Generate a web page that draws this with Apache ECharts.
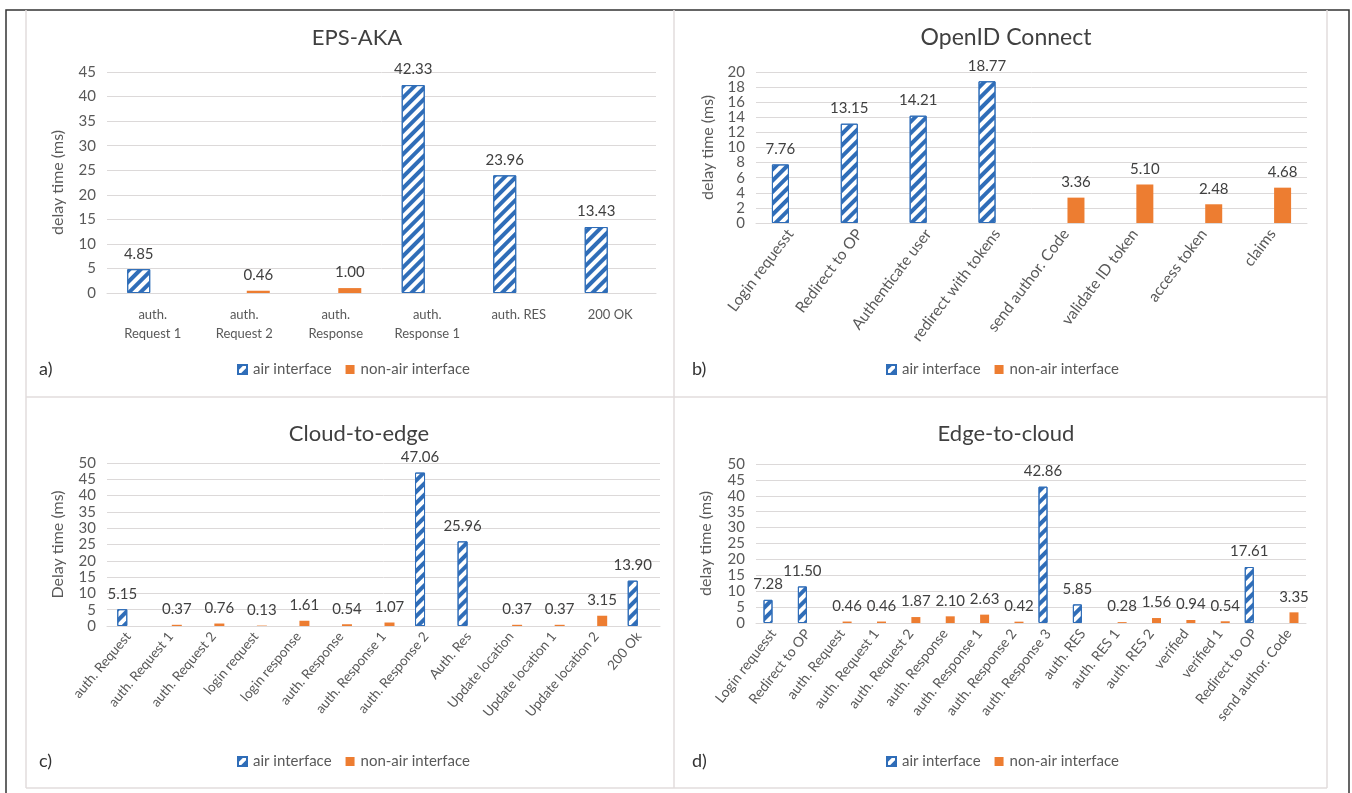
<!DOCTYPE html>
<html>
<head>
<meta charset="utf-8">
<script src="https://cdn.jsdelivr.net/npm/echarts@6/dist/echarts.min.js"></script>
<style>
  html, body { margin: 0; padding: 0; background: #ffffff; }
  #chart { width: 1352px; height: 793px; }
</style>
</head>
<body>
<div id="chart"></div>
<script>
// ---- a) EPS-AKA ----
const catsA = ['auth.\nRequest 1', 'auth.\nRequest 2', 'auth.\nResponse', 'auth.\nResponse 1', 'auth. RES', '200 OK'];
const airA = [4.85, null, null, 42.33, 23.96, 13.43];
const nonAirA = [null, 0.46, 1.00, null, null, null];

// ---- b) OpenID Connect ----
const catsB = ['Login requesst', 'Redirect to OP', 'Authenticate user', 'redirect with tokens',
  'send author. Code', 'validate ID token', 'access token', 'claims'];
const airB = [7.76, 13.15, 14.21, 18.77, null, null, null, null];
const nonAirB = [null, null, null, null, 3.36, 5.10, 2.48, 4.68];

// ---- c) Cloud-to-edge ----
const catsC = ['auth. Request', 'auth. Request 1', 'auth. Request 2', 'login request', 'login response',
  'auth. Response', 'auth. Response 1', 'auth. Response 2', 'Auth. Res', 'Update location',
  'Update location 1', 'Update location 2', '200 Ok'];
const airC = [5.15, null, null, null, null, null, null, 47.06, 25.96, null, null, null, 13.90];
const nonAirC = [null, 0.37, 0.76, 0.13, 1.61, 0.54, 1.07, null, null, 0.37, 0.37, 3.15, null];

// ---- d) Edge-to-cloud ----
const catsD = ['Login requesst', 'Redirect to OP', 'auth. Request', 'auth. Request 1', 'auth. Request 2',
  'auth. Response', 'auth. Response 1', 'auth. Response 2', 'auth. Response 3', 'auth. RES',
  'auth. RES 1', 'auth. RES 2', 'verified', 'verified 1', 'Redirect to OP', 'send author. Code'];
const airD = [7.28, 11.50, null, null, null, null, null, null, 42.86, 5.85, null, null, null, null, 17.61, null];
const nonAirD = [null, null, 0.46, 0.46, 1.87, 2.10, 2.63, 0.42, null, null, 0.28, 1.56, 0.94, 0.54, null, 3.35];

const titles = ['EPS-AKA', 'OpenID Connect', 'Cloud-to-edge', 'Edge-to-cloud'];
const yNames = ['delay time (ms)', 'delay time (ms)', 'Delay time (ms)', 'delay time (ms)'];
const panelTags = ['a)', 'b)', 'c)', 'd)'];
const yMax = [45, 20, 50, 50];
const yStep = [5, 2, 5, 5];

const FONT = 'Lato, "Open Sans", sans-serif';
const TEXT = '#595959';
const GRID_LINE = '#dcd9d9';
const BLUE = '#2f6db8';
const ORANGE = '#ed7d31';

// layout of the four panels (pixel positions on the 1352x793 canvas)
const panels = [
  { cats: catsA, air: airA, non: nonAirA, grid: { left: 107, top: 72, width: 549, height: 221 },
    barWidth: 23, barGap: '22%', rotate: 0, xFont: 13, titleFont: 22,
    title: [352, 22], legend: [232, 357], tag: [39, 360], nameGap: 41 },
  { cats: catsB, air: airB, non: nonAirB, grid: { left: 756, top: 72, width: 551, height: 151 },
    barWidth: 17, barGap: '18%', rotate: 53, xFont: 15.5, titleFont: 23,
    title: [1001, 21], legend: [881, 357], tag: [692, 360], nameGap: 40 },
  { cats: catsC, air: airC, non: nonAirC, grid: { left: 107, top: 463, width: 553, height: 163 },
    barWidth: 10, barGap: '20%', rotate: 50, xFont: 13.5, titleFont: 22,
    title: [354, 418], legend: [232, 749], tag: [39, 752], nameGap: 41 },
  { cats: catsD, air: airD, non: nonAirD, grid: { left: 756, top: 464, width: 550, height: 159 },
    barWidth: 9, barGap: '15%', rotate: 52, xFont: 14, titleFont: 22,
    title: [1001, 418], legend: [881, 749], tag: [692, 752], nameGap: 42 }
];

const hatch = {
  color: '#ffffff',
  borderColor: BLUE,
  borderWidth: 1,
  decal: {
    symbol: 'rect',
    symbolSize: 1,
    color: BLUE,
    dashArrayX: [1, 0],
    dashArrayY: [3.5, 3.5],
    rotation: -Math.PI / 4
  }
};

const valueLabel = {
  show: true,
  position: 'top',
  distance: 8,
  color: '#404040',
  fontFamily: FONT,
  fontSize: 15,
  formatter: p => Number(p.value).toFixed(2)
};

const frameLine = { stroke: '#e2dcdc', lineWidth: 1.5 };

const option = {
  animation: false,
  textStyle: { fontFamily: FONT },
  title: panels.map((p, i) => ({
    text: titles[i],
    left: p.title[0],
    top: p.title[1],
    textAlign: 'center',
    textStyle: { fontFamily: FONT, fontSize: p.titleFont, fontWeight: 'normal', color: '#404040' }
  })),
  legend: panels.map(p => ({
    left: p.legend[0],
    top: p.legend[1],
    itemWidth: 9,
    itemHeight: 9,
    itemGap: 14,
    icon: 'rect',
    textStyle: { fontFamily: FONT, fontSize: 15, color: TEXT, padding: [0, 0, 0, 1] },
    data: ['air interface', 'non-air interface']
  })),
  grid: panels.map(p => Object.assign({ containLabel: false }, p.grid)),
  xAxis: panels.map((p, i) => ({
    type: 'category',
    gridIndex: i,
    data: p.cats,
    axisTick: { show: false },
    axisLine: { lineStyle: { color: GRID_LINE, width: 1 } },
    axisLabel: {
      interval: 0,
      rotate: p.rotate,
      margin: p.rotate ? 8 : 12,
      color: TEXT,
      fontFamily: FONT,
      fontSize: p.xFont,
      lineHeight: 19
    }
  })),
  yAxis: panels.map((p, i) => ({
    type: 'value',
    gridIndex: i,
    min: 0,
    max: yMax[i],
    interval: yStep[i],
    name: yNames[i],
    nameLocation: 'middle',
    nameRotate: 90,
    nameGap: p.nameGap,
    nameTextStyle: { color: TEXT, fontFamily: FONT, fontSize: 16 },
    axisLine: { show: false },
    axisTick: { show: false },
    axisLabel: { color: TEXT, fontFamily: FONT, fontSize: 15, margin: 11 },
    splitLine: { lineStyle: { color: GRID_LINE, width: 1 } }
  })),
  series: panels.flatMap((p, i) => [
    {
      name: 'air interface',
      type: 'bar',
      xAxisIndex: i,
      yAxisIndex: i,
      data: p.air,
      barWidth: p.barWidth,
      barGap: p.barGap,
      itemStyle: hatch,
      label: valueLabel
    },
    {
      name: 'non-air interface',
      type: 'bar',
      xAxisIndex: i,
      yAxisIndex: i,
      data: p.non,
      barWidth: p.barWidth,
      barGap: p.barGap,
      itemStyle: { color: ORANGE },
      label: valueLabel
    }
  ]),
  graphic: [
    // outer frame
    { type: 'rect', shape: { x: 6, y: 10, width: 1343, height: 800 },
      style: { fill: 'none', stroke: '#333333', lineWidth: 1.5 }, silent: true },
    // panel borders
    { type: 'line', shape: { x1: 26, y1: 10, x2: 26, y2: 788 }, style: frameLine, silent: true },
    { type: 'line', shape: { x1: 674, y1: 10, x2: 674, y2: 788 }, style: frameLine, silent: true },
    { type: 'line', shape: { x1: 1327, y1: 10, x2: 1327, y2: 788 }, style: frameLine, silent: true },
    { type: 'line', shape: { x1: 26, y1: 397, x2: 1327, y2: 397 }, style: frameLine, silent: true },
    { type: 'line', shape: { x1: 26, y1: 788, x2: 1327, y2: 788 }, style: frameLine, silent: true }
  ].concat(panels.map((p, i) => ({
    type: 'text',
    left: p.tag[0],
    top: p.tag[1],
    style: { text: panelTags[i], fill: '#333333', font: '18px ' + FONT },
    silent: true
  })))
};

const chart = echarts.init(document.getElementById('chart'), null, { renderer: 'canvas' });
chart.setOption(option);
</script>
</body>
</html>
